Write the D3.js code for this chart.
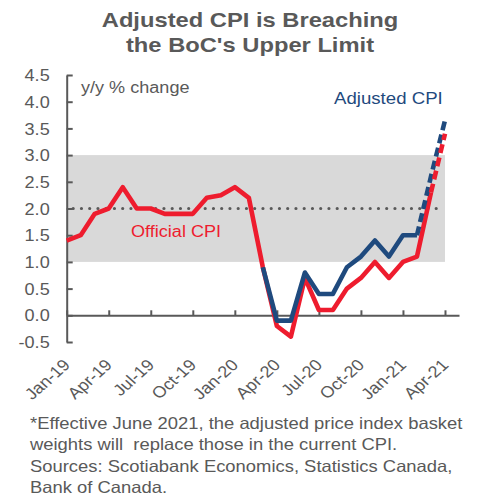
<!DOCTYPE html>
<html>
<head>
<meta charset="utf-8">
<script src="https://cdn.jsdelivr.net/npm/d3@7"></script>
<style>
  html, body { margin: 0; padding: 0; background: #fff; }
  svg { display: block; font-family: "Liberation Sans", Arial, sans-serif; }
  text { white-space: pre; }
</style>
</head>
<body>
<div id="chart"></div>
<script>
// monthly data, Jan-19 .. Apr-21
const months = ["Jan-19","Feb-19","Mar-19","Apr-19","May-19","Jun-19","Jul-19","Aug-19","Sep-19","Oct-19","Nov-19","Dec-19",
  "Jan-20","Feb-20","Mar-20","Apr-20","May-20","Jun-20","Jul-20","Aug-20","Sep-20","Oct-20","Nov-20","Dec-20",
  "Jan-21","Feb-21","Mar-21","Apr-21"];
const officialCPI = [1.4,1.5,1.9,2.0,2.4,2.0,2.0,1.9,1.9,1.9,2.2,2.25,2.4,2.2,0.9,-0.2,-0.4,0.7,0.1,0.1,0.5,0.7,1.0,0.7,1.0,1.1,2.3,3.4];
const adjustedCPI = [null,null,null,null,null,null,null,null,null,null,null,null,null,null,
  0.9,-0.1,-0.1,0.8,0.4,0.4,0.9,1.1,1.4,1.1,1.5,1.5,2.6,3.65];
const officialDashFrom = "Mar-21";
const adjustedDashFrom = "Feb-21";
const xTickLabels = ["Jan-19","Apr-19","Jul-19","Oct-19","Jan-20","Apr-20","Jul-20","Oct-20","Jan-21","Apr-21"];
const yTicks = [-0.5,0,0.5,1,1.5,2,2.5,3,3.5,4,4.5];
const targetBand = [1.0, 3.0];
const targetMid = 2.0;

const width = 482, height = 497;
const stretch = 1.13;   // text in the picture is a bit wider than tall
const grey = "#595959", red = "#ee1c2e", blue = "#1f4a7e";

const svg = d3.select("#chart").append("svg")
  .attr("width", width)
  .attr("height", height);

const xScale = d3.scaleLinear().domain([0, months.length]).range([66.7, 459]);
const yScale = d3.scaleLinear().domain([-0.5, 4.5]).range([342, 75]);
const xm = m => xScale(months.indexOf(m));

// 1-3% band and 2% dotted line
svg.append("rect")
  .attr("x", xScale(0))
  .attr("y", yScale(targetBand[1]))
  .attr("width", xm("Apr-21") - xScale(0))
  .attr("height", yScale(targetBand[0]) - yScale(targetBand[1]))
  .attr("fill", "#d9d9d9");

svg.append("line")
  .attr("x1", xScale(0) + 6.5).attr("x2", xm("Apr-21") - 6)
  .attr("y1", yScale(targetMid)).attr("y2", yScale(targetMid))
  .attr("stroke", grey)
  .attr("stroke-width", 3.2)
  .attr("stroke-linecap", "round")
  .attr("stroke-dasharray", "0 8.25");

// y axis
const yAxis = svg.append("g")
  .attr("transform", `translate(${xScale(0)},0)`)
  .call(d3.axisLeft(yScale).tickValues(yTicks).tickFormat(d3.format(".1f")).tickSizeInner(-6).tickSizeOuter(0));
yAxis.select(".domain").attr("stroke", grey).attr("stroke-width", 2);
yAxis.selectAll(".tick line").attr("stroke", grey).attr("stroke-width", 2);
yAxis.selectAll(".tick text")
  .attr("x", 0).attr("dy", "0.35em")
  .attr("transform", `translate(-17,0) scale(${stretch},1)`)
  .attr("font-size", 16).attr("fill", grey)
  .text(d => d3.format(".1f")(d).replace("−", "-"));

// x axis at zero, labels at the bottom
const xAxis = svg.append("g")
  .attr("transform", `translate(0,${yScale(0)})`)
  .call(d3.axisBottom(xScale)
    .tickValues(xTickLabels.map(m => months.indexOf(m)))
    .tickFormat(i => months[i])
    .tickSizeInner(-5).tickSizeOuter(0));
xAxis.select(".domain").attr("stroke", grey).attr("stroke-width", 2);
xAxis.selectAll(".tick line").attr("stroke", grey).attr("stroke-width", 2);
xAxis.selectAll(".tick text")
  .attr("x", 0).attr("y", 0).attr("dy", 0)
  .attr("text-anchor", "end")
  .attr("transform", `translate(4,${366 - yScale(0)}) scale(${stretch},1) rotate(-45)`)
  .attr("font-size", 16).attr("fill", grey);

// series
const pts = arr => arr.map((v, i) => ({ i, v }));
const line = d3.line().defined(d => d.v != null).x(d => xScale(d.i)).y(d => yScale(d.v));

function drawSeries(values, dashFrom, colour) {
  const k = months.indexOf(dashFrom);
  const p = pts(values);
  svg.append("path")
    .attr("d", line(p.slice(0, k + 1)))
    .attr("fill", "none").attr("stroke", colour)
    .attr("stroke-width", 4.6).attr("stroke-linejoin", "round");
  return p.slice(k);
}
const redDash = drawSeries(officialCPI, officialDashFrom, red);
const blueDash = drawSeries(adjustedCPI, adjustedDashFrom, blue);

svg.append("path")
  .attr("d", line(blueDash))
  .attr("fill", "none").attr("stroke", blue)
  .attr("stroke-width", 4.6).attr("stroke-dasharray", "9 4.5");
svg.append("path")
  .attr("d", line(redDash))
  .attr("fill", "none").attr("stroke", red)
  .attr("stroke-width", 4.6).attr("stroke-dasharray", "9 4.5");

// texts
function label(txt, x, y, size, colour, anchor, bold) {
  svg.append("text")
    .attr("transform", `translate(${x},${y}) scale(${stretch},1)`)
    .attr("text-anchor", anchor || "start")
    .attr("font-size", size)
    .attr("font-weight", bold ? "bold" : "normal")
    .attr("fill", colour)
    .text(txt);
}

label("Adjusted CPI is Breaching", 250, 27, 21, grey, "middle", true);
label("the BoC's Upper Limit", 250, 52, 21, grey, "middle", true);
label("y/y % change", 81, 93, 16, grey);
label("Official CPI", 131, 237, 16, red);
label("Adjusted CPI", 334, 104, 16.5, blue);

const notes = ["*Effective June 2021, the adjusted price index basket",
  "weights will  replace those in the current CPI.",
  "Sources: Scotiabank Economics, Statistics Canada,",
  "Bank of Canada."];
notes.forEach((t, i) => label(t, 30, 429 + i * 21.3, 16.3, grey));
</script>
</body>
</html>
